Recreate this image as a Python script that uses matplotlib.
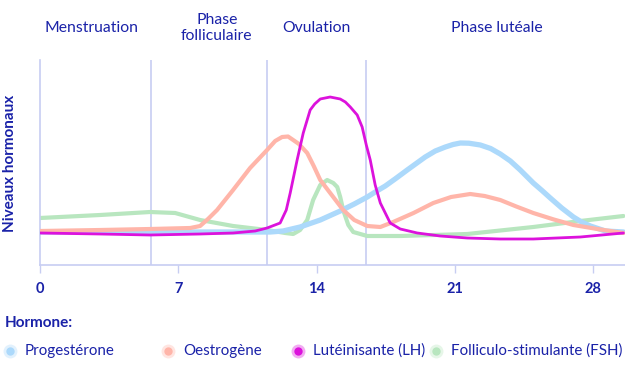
import matplotlib
matplotlib.use("Agg")
import matplotlib.pyplot as plt
from matplotlib.lines import Line2D

plt.rcParams['font.family'] = ['Lato', 'DejaVu Sans']

TXT = '#1a22a8'
GRID = '#c7cdf2'

# ---- data ----
prog_days = [0, 3.04, 6.08, 9.11, 11.65, 12.3, 13.16, 14.18, 15.19, 15.9, 16.56, 17.0, 17.47,
             18.0, 18.58, 19.0, 19.49, 20.0, 20.51, 20.9, 21.27, 21.7, 22.28, 22.8, 23.29, 23.8,
             24.3, 24.96, 25.4, 25.82, 26.4, 26.99, 27.4, 27.85, 28.61, 29.52]
prog_vals = [33, 33, 33, 33, 33, 34, 38, 45, 54, 61, 68, 73.5, 79, 86.5, 95, 101, 108, 114, 118,
             120.5, 122, 121.8, 120, 116.5, 111, 104, 95, 82, 74.5, 67, 57, 48, 43, 39, 34, 33]

oest_days = [0, 3.04, 5.57, 7.6, 8.1, 8.5, 8.96, 9.77, 10.63, 11.49, 11.9, 12.25, 12.55, 12.81,
             13.1, 13.52, 13.85, 14.18, 15.34, 15.9, 16.56, 17.22, 17.87, 18.9, 19.9, 20.8,
             21.77, 22.5, 23.29, 24.1, 24.96, 26.0, 26.99, 28.2, 29.52]
oest_vals = [34, 35, 36, 37, 39, 46, 55, 75, 97, 115, 124, 128, 128.5, 125, 121, 112, 99, 85,
             55, 45, 39, 38, 43, 52, 62, 68, 71, 69, 65, 58.5, 52, 45.5, 40, 36, 32]

lh_days = [0, 3.04, 5.57, 8.10, 9.77, 10.89, 11.49, 12.15, 12.46, 12.66, 13.01, 13.32, 13.67,
           13.9, 14.18, 14.68, 15.19, 15.45, 15.70, 16.05, 16.3, 16.51, 16.71, 16.96, 17.22,
           17.72, 18.23, 19.09, 20.25, 21.62, 23.29, 24.96, 27.34, 29.52]
lh_vals = [32, 31, 30, 31, 32, 34, 37, 42, 55, 72, 105, 132, 155, 161, 166, 168, 166, 163, 158,
           150, 138, 120, 105, 80, 62, 42, 36, 32, 29, 27, 26, 26, 28, 32]

fsh_days = [0, 3.04, 5.57, 6.84, 8.10, 9.77, 11.49, 12.41, 12.81, 13.16, 13.52, 13.82, 14.18,
            14.53, 14.84, 15.04, 15.19, 15.34, 15.6, 15.85, 16.56, 18.23, 21.62, 24.96, 27.34, 29.52]
fsh_vals = [47, 50, 53, 52, 45, 39, 35, 32, 31, 35, 45, 65, 80, 85, 82, 78, 68, 55, 40, 33, 29,
            29, 31, 38, 44, 49]

phase_bounds = [5.6, 11.5, 16.5]
phase_labels = ['Menstruation', 'Phase\nfolliculaire', 'Ovulation', 'Phase lutéale']
phase_centers = [2.6, 8.95, 14.0, 23.1]
xticks = [0, 7, 14, 21, 28]

series_names = ['Progestérone', 'Oestrogène', 'Lutéinisante (LH)', 'Folliculo-stimulante (FSH)']
colors = ['#acd9fb', '#ffb5a9', '#dc12dc', '#b8e6bf']

# ---- figure ----
fig = plt.figure(figsize=(6.25, 3.7), dpi=100)
ax = fig.add_axes([40 / 625, 1 - 265 / 370, 1 - 40 / 625, (265 - 60) / 370])
ax.set_xlim(0, 29.6)
ax.set_ylim(0, 205)

for b in phase_bounds:
    ax.axvline(b, color=GRID, lw=1.2, zorder=1)

ax.plot(fsh_days, fsh_vals, color=colors[3], lw=3, solid_capstyle='round', solid_joinstyle='round', zorder=2)
ax.plot(prog_days, prog_vals, color=colors[0], lw=3.8, solid_capstyle='round', solid_joinstyle='round', zorder=3)
ax.plot(oest_days, oest_vals, color=colors[1], lw=3, solid_capstyle='round', solid_joinstyle='round', zorder=4)
ax.plot(lh_days, lh_vals, color=colors[2], lw=2, solid_capstyle='round', solid_joinstyle='round', zorder=5)

for s in ['top', 'right']:
    ax.spines[s].set_visible(False)
for s in ['left', 'bottom']:
    ax.spines[s].set_color(GRID)
    ax.spines[s].set_linewidth(1.2)

ax.set_yticks([])
ax.set_xticks(xticks)
ax.set_xticklabels([str(t) for t in xticks], fontweight='bold', color=TXT, fontsize=10.5)
ax.tick_params(axis='x', length=6, color=GRID, width=1, pad=6)

for lbl, c in zip(phase_labels, phase_centers):
    ax.text(c, 1.0 + (32 / 205), lbl, transform=ax.get_xaxis_transform(), ha='center', va='center',
            color=TXT, fontsize=11.3, linespacing=1.1)

fig.text(10 / 625, 1 - 163 / 370, 'Niveaux hormonaux', rotation=90, ha='center', va='center',
         color=TXT, fontsize=11, fontweight='bold')

fig.text(5 / 625, 1 - 323 / 370, 'Hormone:', ha='left', va='center', color=TXT, fontsize=11,
         fontweight='bold')

marker_x = [10, 168, 298, 436]
text_x = [25, 183, 313, 451]
ly = 1 - 351 / 370
for name, col, mx, tx in zip(series_names, colors, marker_x, text_x):
    fig.add_artist(Line2D([mx / 625], [ly], marker='o', markersize=10, color=col, alpha=0.35,
                          markeredgewidth=0, transform=fig.transFigure))
    fig.add_artist(Line2D([mx / 625], [ly], marker='o', markersize=6, color=col,
                          markeredgewidth=0, transform=fig.transFigure))
    fig.text(tx / 625, ly, name, ha='left', va='center', color=TXT, fontsize=10.9)

fig.savefig('out.png', dpi=100)
